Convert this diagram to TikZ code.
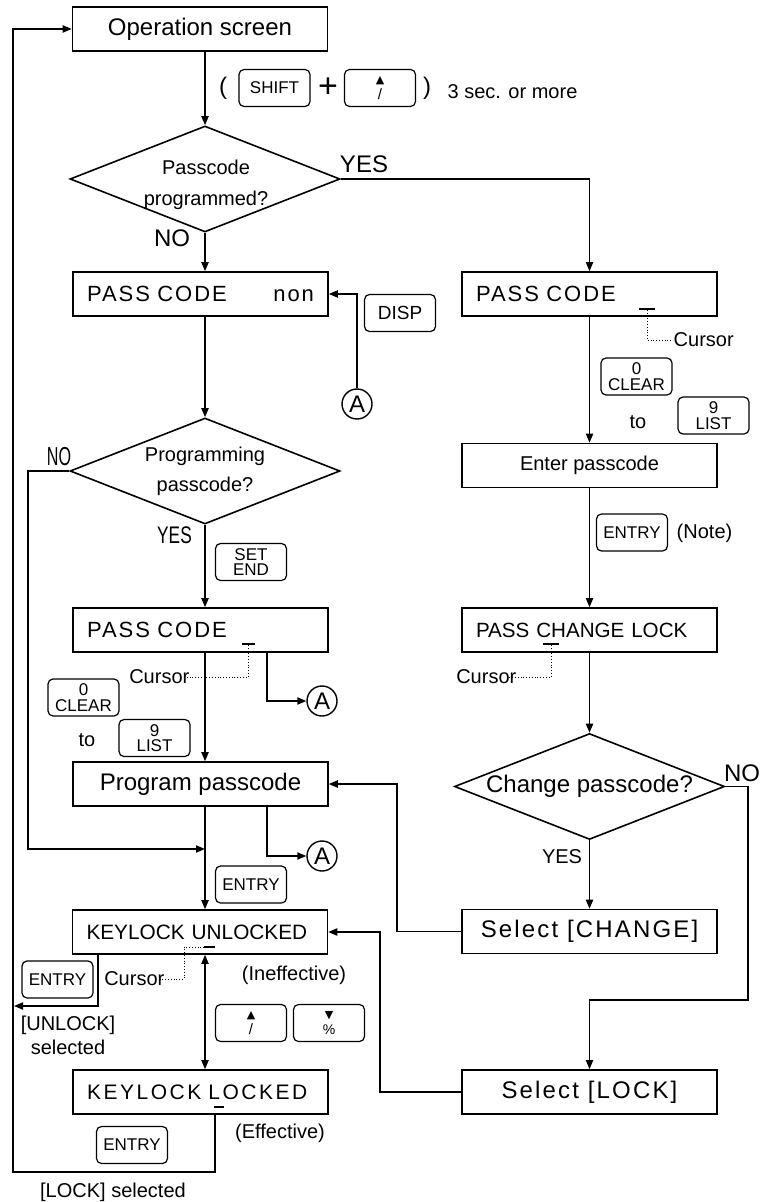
\documentclass[tikz,border=0pt]{standalone}
\usepackage{fontspec}
\setmainfont{Liberation Sans}
\newfontfamily\lcd[LetterSpace=9]{Liberation Sans}
\newfontfamily\lcdw[LetterSpace=12]{Liberation Sans}
\newfontfamily\symf{DejaVu Sans}
\usetikzlibrary{positioning,arrows.meta,shapes.geometric}
\newcommand\upmark{{\symf\fontsize{5.5}{5.5}\selectfont ▲}\\[0.5pt]{\fontsize{7.5}{7.5}\selectfont /}}
\newcommand\dnmark{{\symf\fontsize{5.5}{5.5}\selectfont ▼}\\[0.5pt]{\fontsize{7}{7}\selectfont \%}}

\begin{document}
\begin{tikzpicture}[x=0.5pt,y=-0.5pt,line width=0.7pt,>={Triangle[length=4.5pt,width=3.6pt]},
  box/.style={draw,line width=0.8pt,minimum width=127.5pt,minimum height=22pt,inner sep=0pt},
  lbox/.style={box,text width=113.5pt,inner xsep=7pt,align=left},
  dec/.style={draw,line width=0.8pt,diamond,aspect=2.5,inner sep=0pt,minimum width=135pt,minimum height=53pt,align=center,font=\fontsize{10}{15.5}\selectfont},
  key/.style={draw,rounded corners=2.5pt,line width=0.6pt,minimum width=35.5pt,minimum height=18.5pt,inner sep=0pt,align=center,font=\fontsize{8.5}{7.8}\selectfont},
  conn/.style={draw,circle,line width=0.7pt,minimum size=15pt,inner sep=0pt,font=\fontsize{12}{12}\selectfont},
  txt/.style={inner sep=0pt,align=center},
  cur/.style={line width=1.2pt},
  lead/.style={densely dotted,line width=0.4pt}]
  \useasboundingbox (0,0) rectangle (762,1202);
  % left column
  \node[box,font=\fontsize{12}{14}\selectfont] (op) at (200,29) {Operation screen};
  \node[dec] (d1) at (205,179) {};
  \node[txt,font=\fontsize{10}{15.5}\selectfont] (d1t) at (206,185) {Passcode\\programmed?};
  \node[lbox,font=\lcd\fontsize{11}{13}\selectfont] (non) at (200.5,294) {PASS CODE\hfill non};
  \node[dec,font=\fontsize{10}{15}\selectfont] (d2) at (205,471) {Programming\\passcode?};
  \node[lbox,font=\lcd\fontsize{11}{13}\selectfont] (pc2) at (200.5,630) {PASS CODE};
  \node[box,font=\fontsize{12}{14}\selectfont] (prog) at (200.5,784) {Program passcode};
  \node[lbox,font=\fontsize{10.4}{12}\selectfont] (unl) at (200,932) {KEYLOCK UNLOCKED};
  \node[lbox,font=\lcdw\fontsize{10.5}{12}\selectfont] (lck) at (200.5,1092) {KEYLOCK LOCKED};
  % right column
  \node[lbox,font=\lcd\fontsize{11}{13}\selectfont] (pcr) at (589.5,294) {PASS CODE};
  \node[box,font=\fontsize{10}{12}\selectfont] (ent) at (589.5,465.5) {Enter passcode};
  \node[lbox,font=\fontsize{10.3}{12}\selectfont] (pcl) at (589.5,630) {PASS CHANGE LOCK};
  \node[dec,font=\fontsize{12}{14}\selectfont] (d3) at (589.5,786.5) {Change passcode?};
  \node[box,font=\lcd\fontsize{12}{14}\selectfont] (chg) at (589.5,931.5) {Select [CHANGE]};
  \node[box,font=\lcd\fontsize{12}{14}\selectfont] (slk) at (589.5,1092) {Select [LOCK]};
  % keys
  \node[key] (kshift) at (274.5,88) {SHIFT};
  \node[key] (kup1) at (380,88) {\upmark};
  \node[key,font=\fontsize{9.5}{10}\selectfont] (kdisp) at (400,313) {DISP};
  \node[key] (kclr1) at (636.5,376.5) {0\\CLEAR};
  \node[key] (klst1) at (713.5,415.5) {9\\LIST};
  \node[key] (kent1) at (632,532.5) {ENTRY};
  \node[key] (kset) at (251,562) {SET\\END};
  \node[key] (kclr2) at (83.5,697.5) {0\\CLEAR};
  \node[key] (klst2) at (154.5,738) {9\\LIST};
  \node[key] (kent2) at (251,884.5) {ENTRY};
  \node[key] (kent3) at (57.5,979.5) {ENTRY};
  \node[key] (kup2) at (251,1023) {\upmark};
  \node[key] (kdn) at (329,1023) {\dnmark};
  \node[key] (kent4) at (132,1145) {ENTRY};
  % connectors A
  \node[conn] (a1) at (357,404) {A};
  \node[conn] (a2) at (322,701) {A};
  \node[conn] (a3) at (322,856) {A};
  % labels
  \node[txt,font=\fontsize{12}{14}\selectfont] (lp) at (223,88) {(};
  \node[txt,font=\fontsize{17}{17}\selectfont] (plus) at (328,88) {+};
  \node[txt,font=\fontsize{12}{14}\selectfont] (rp) at (427,88) {)};
  \node[txt,anchor=west] (hold) at (447,92) {3 sec. or more};
  \node[txt,font=\fontsize{12}{14}\selectfont] (yes1) at (364,164) {YES};
  \node[txt,font=\fontsize{12}{14}\selectfont] (no1) at (172,238) {NO};
  \node[txt] (no2) at (59,457) {\scalebox{0.62}[1]{\fontsize{13}{13}\selectfont NO}};
  \node[txt] (yes2) at (174.5,535) {\scalebox{0.72}[1]{\fontsize{12}{12}\selectfont YES}};
  \node[txt,font=\fontsize{12}{14}\selectfont] (no3) at (742,773) {NO};
  \node[txt] (yes3) at (562,857) {YES};
  \node[txt,anchor=west] (cu1) at (673,340) {Cursor};
  \node[txt,anchor=east] (cu2) at (190,677) {Cursor};
  \node[txt,anchor=east] (cu3) at (517,677) {Cursor};
  \node[txt,anchor=east] (cu4) at (165,979) {Cursor};
  \node[txt] (to1) at (638,422) {to};
  \node[txt] (to2) at (87,740) {to};
  \node[txt] (note) at (704.5,533) {(Note)};
  \node[txt] (ineff) at (294,975) {(Ineffective)};
  \node[txt] (eff) at (280,1133) {(Effective)};
  \node[txt,font=\fontsize{10}{12}\selectfont] (unsel) at (68,1035) {[UNLOCK]\\selected};
  \node[txt] (lksel) at (113,1192) {[LOCK] selected};
  % cursor marks
  \draw[cur] (639,309) -- (655,309);
  \draw[cur] (242,644) -- (255,644);
  \draw[cur] (543,644) -- (559,644);
  \draw[cur] (204,947) -- (215,947);
  \draw[cur] (214,1107) -- (224,1107);
  \draw[lead] (647,310) |- (cu1.west);
  \draw[lead] (248,645) |- ([xshift=-2.5pt]cu2.east);
  \draw[lead] (551,645) |- ([xshift=-5.5pt]cu3.east);
  \draw[lead] (204,947) -- (184,947) |- ([xshift=-3.5pt]cu4.east);
  % flow lines
  \coordinate (xL) at (205,0);
  \coordinate (xA) at (267,0);
  \coordinate (xU) at (98,0);
  \coordinate (xK) at (215,0);
  \coordinate (back) at (13,1172);
  \coordinate (unlk) at (14,1006);
  \coordinate (noL) at (28,849);
  \coordinate (join) at (205,849);
  \coordinate (chgL) at (397,784);
  \coordinate (lckR) at (380,932);
  \coordinate (noR) at (748,1000);
  \draw[->] (op.south -| xL) -- (d1.north);
  \draw[->] (d1.east) -| (pcr.north);
  \draw[->] (d1.south) -- (non.north -| xL);
  \draw[->] (a1.north) |- (non.east);
  \draw[->] (non.south -| xL) -- (d2.north);
  \draw[->] (d2.south) -- (pc2.north -| xL);
  \draw[->] (d2.west) -| (noL) -- (join);
  \draw[->] (pc2.south -| xL) -- (prog.north -| xL);
  \draw[->] (pc2.south -| xA) |- (a2.west);
  \draw[->] (prog.south -| xA) |- (a3.west);
  \draw[->] (prog.south -| xL) -- (unl.north -| xL);
  \draw[<->] (unl.south -| xL) -- (lck.north -| xL);
  \draw[->] (unl.south -| xU) |- (unlk);
  \draw[->] (lck.south -| xK) |- (back) |- (op.west);
  \draw[->] (pcr.south) -- (ent.north);
  \draw[->] (ent.south) -- (pcl.north);
  \draw[->] (pcl.south) -- (d3.north);
  \draw[->] (d3.south) -- (chg.north);
  \draw[->] (d3.east) -| (noR) -| (slk.north);
  \draw[->] (chg.west) -| (chgL) -- (prog.east);
  \draw[->] (slk.west) -| (lckR) -- (unl.east);
\end{tikzpicture}
\end{document}
